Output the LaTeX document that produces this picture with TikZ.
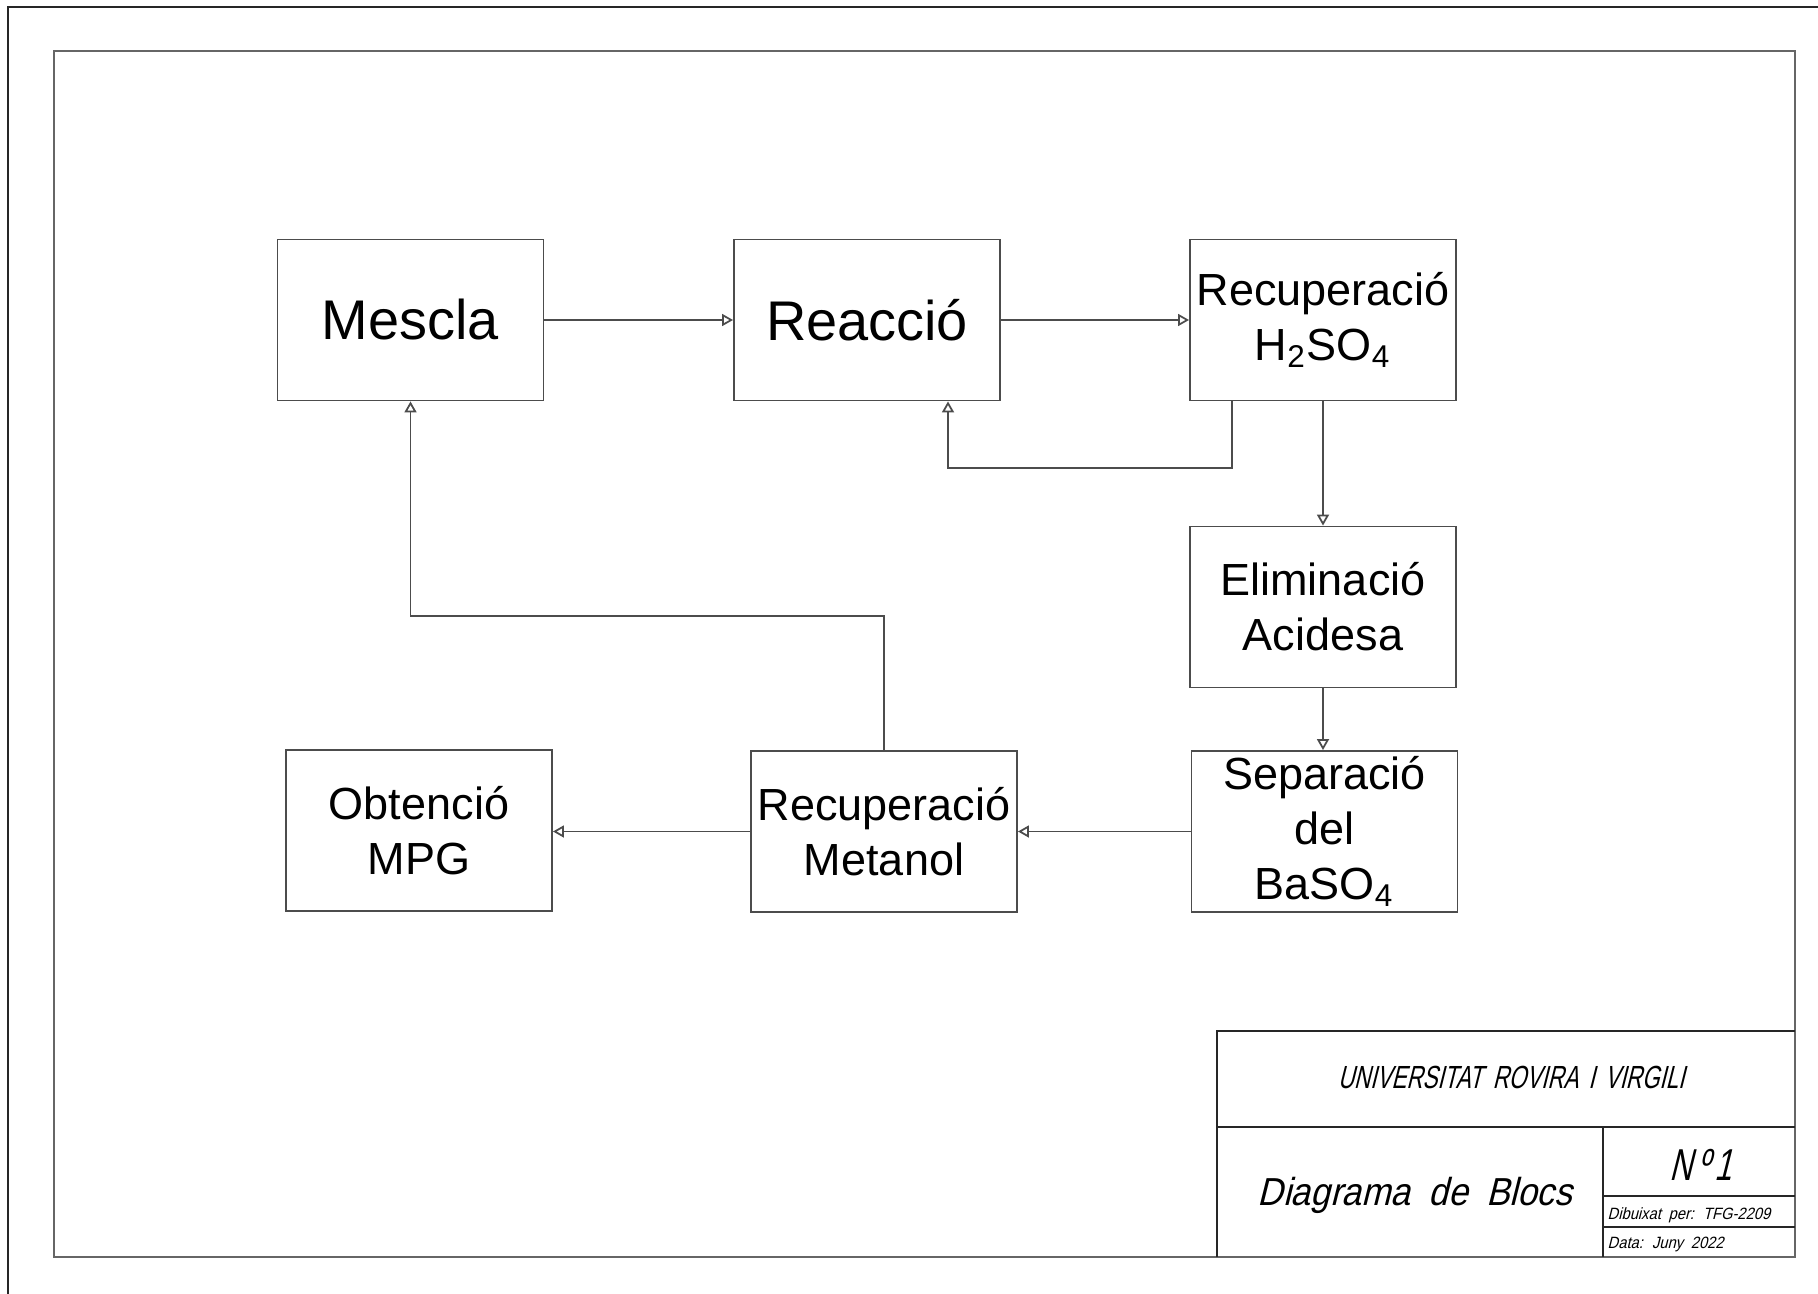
\documentclass[tikz,border=0pt]{standalone}
\usepackage{fontspec}
\setmainfont{Liberation Sans}
\newfontfamily\isofont[FakeSlant=0.25,FakeStretch=0.9,WordSpace=1.9]{Liberation Sans}
\newfontfamily\isocaps[FakeSlant=0.25,FakeStretch=0.7,WordSpace=1.6]{Liberation Sans}
\usepackage{tikz}
\usetikzlibrary{arrows.meta}

\tikzset{
  bloc/.style={draw=black!70, line width=0.5pt, minimum width=2.66cm,
    minimum height=1.61cm, inner sep=0pt, align=center,
    font=\fontsize{12.8}{15.6}\selectfont},
  blocgran/.style={bloc, font=\fontsize{15.9}{19}\selectfont},
  flux/.style={draw=black!70, line width=0.5pt},
  marc/.style={draw=black!85, line width=0.6pt},
  rotul/.style={inner sep=0pt},
}

\begin{document}
\begin{tikzpicture}[x=0.01cm,y=-0.01cm]
\useasboundingbox (0,0) rectangle (1818,1294);
\begin{scope}[>={Triangle[open,length=0.11cm,width=0.12cm]}]

    % marcs del full
    \draw[black!85, line width=0.7pt] (8,1294) -- (8,7) -- (1818,7);
    \draw[black!60, line width=0.8pt] (54,51) rectangle (1795,1257);

    % blocs
    \node[blocgran] (mescla) at (410.5,320) {Mescla};
    \node[blocgran] (reaccio) at (867,320) {Reacció};
    \node[bloc] (recacid) at (1323,320) {Recuperació\\H\textsubscript{2}SO\textsubscript{4}};
    \node[bloc] (elim) at (1323,607) {Eliminació\\Acidesa};
    \node[bloc] (separ) at (1324.5,831.5) {Separació\\del\\BaSO\textsubscript{4}};
    \node[bloc] (recmet) at (884,831.5) {Recuperació\\Metanol};
    \node[bloc] (obten) at (419,830.5) {Obtenció\\MPG};

    \coordinate (ret1) at (948,468);
    \coordinate (ret2) at (410.5,616);

    \draw[flux,->] (mescla) -- (reaccio);
    \draw[flux,->] (reaccio) -- (recacid);
    \draw[flux,->] ([xshift=-0.91cm]recacid.south) |- (ret1) -- (ret1 |- reaccio.south);
    \draw[flux,->] (recacid) -- (elim);
    \draw[flux,->] (elim) -- (elim.south |- separ.north);
    \draw[flux,->] (separ.west) -- (separ.west -| recmet.east);
    \draw[flux,->] (recmet.west) -- (recmet.west -| obten.east);
    \draw[flux,->] (recmet.north) |- (ret2) -- (mescla.south);

    % caixetin
    \draw[marc] (1217,1257) -- (1217,1031) -- (1795,1031);
    \draw[marc] (1217,1127) -- (1795,1127);
    \draw[marc] (1603,1127) -- (1603,1257);
    \draw[marc] (1603,1196) -- (1795,1196);
    \draw[marc] (1603,1227) -- (1795,1227);

    \node[rotul, anchor=base] (univ) at (1511,1088)
        {\isocaps\fontsize{9.1}{10}\selectfont UNIVERSITAT ROVIRA I VIRGILI};
    \node[rotul, anchor=base] (titol) at (1415,1205)
        {\isofont\fontsize{11.1}{12}\selectfont Diagrama de Blocs};
    \node[rotul, anchor=base] (num) at (1701,1180)
        {\isocaps\fontsize{12.7}{14}\selectfont N\kern0.12em º\kern0.12em 1};
    \node[rotul, anchor=base west] (autor) at (1607,1219)
        {\isofont\fontsize{4.65}{5}\selectfont Dibuixat per: TFG-2209};
    \node[rotul, anchor=base west] (data) at (1607,1248)
        {\isofont\fontsize{4.65}{5}\selectfont Data: Juny 2022};

\end{scope}
\end{tikzpicture}
\end{document}
